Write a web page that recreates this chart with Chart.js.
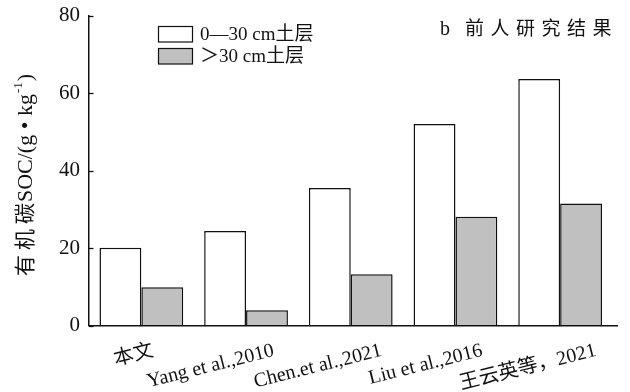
<!DOCTYPE html>
<html>
<head>
<meta charset="utf-8">
<script src="https://cdn.jsdelivr.net/npm/chart.js@4/dist/chart.umd.min.js"></script>
<style>
  html, body { margin: 0; padding: 0; background: #fff; }
  #wrap { width: 630px; height: 392px; position: relative; }
</style>
</head>
<body>
<div id="wrap"><canvas id="c" width="630" height="392"></canvas></div>
<script>
// Soil organic carbon (g/kg) compared with earlier studies
const categories = ['本文', 'Yang et al.,2010', 'Chen.et al.,2021', 'Liu et al.,2016', '王云英等，2021'];
const topsoil = [20.1, 24.4, 35.5, 52.0, 63.6];   // 0—30 cm
const subsoil = [9.9, 4.0, 13.3, 28.1, 31.5];     // >30 cm
const seriesNames = ['0—30 cm土层', '＞30 cm土层'];
const yTicks = [0, 20, 40, 60, 80];

const SERIF = '"Liberation Serif", "Noto Sans CJK SC", serif';
const CJK = '"Noto Sans CJK SC", sans-serif';
const INK = '#111';

// horizontal nudge of each slanted category label (right end, px from group centre)
const labelShift = [13, 29, 32, 28, 37];

const decor = {
  id: 'decor',
  afterDraw(chart) {
    const ctx = chart.ctx;
    const area = chart.chartArea;
    const xs = chart.scales.x, ys = chart.scales.y;
    ctx.save();

    // baseline, running a little past the last group
    ctx.strokeStyle = INK;
    ctx.lineWidth = 1.5;
    ctx.beginPath();
    ctx.moveTo(area.left - 0.75, area.bottom);
    ctx.lineTo(area.right + 5.5, area.bottom);
    ctx.stroke();

    // inward tick marks on the value axis
    ctx.lineWidth = 1.3;
    yTicks.forEach(v => {
      const y = Math.round(ys.getPixelForValue(v)) + 0.5;
      ctx.beginPath();
      ctx.moveTo(area.left, y);
      ctx.lineTo(area.left + 4.5, y);
      ctx.stroke();
    });

    // slanted category labels
    ctx.fillStyle = INK;
    ctx.font = '20px ' + SERIF;
    ctx.textAlign = 'right';
    ctx.textBaseline = 'alphabetic';
    categories.forEach((lab, i) => {
      const x = xs.getPixelForValue(i) + labelShift[i];
      ctx.save();
      ctx.translate(x, area.bottom + 30);
      ctx.rotate(-14 * Math.PI / 180);
      ctx.fillText(lab, 0, 0);
      ctx.restore();
    });

    // value axis title: 有机碳SOC/(g • kg-1)
    ctx.save();
    ctx.translate(32, 175);
    ctx.rotate(-Math.PI / 2);
    const parts = [
      { t: '有', f: '21px ' + CJK, dy: 0, gap: 5 },
      { t: '机', f: '21px ' + CJK, dy: 0, gap: 5 },
      { t: '碳', f: '21px ' + CJK, dy: 0, gap: 1 },
      { t: 'SOC/(g • kg', f: '22px ' + SERIF, dy: 0, gap: 1 },
      { t: '-1', f: '13px ' + SERIF, dy: -10, gap: 1 },
      { t: ')', f: '22px ' + SERIF, dy: 0, gap: 0 }
    ];
    let total = 0;
    parts.forEach(p => { ctx.font = p.f; p.w = ctx.measureText(p.t).width; total += p.w + p.gap; });
    let cx = -total / 2;
    ctx.textAlign = 'left';
    parts.forEach(p => {
      ctx.font = p.f;
      ctx.fillText(p.t, cx, p.dy);
      cx += p.w + p.gap;
    });
    ctx.restore();

    // legend
    const ds = chart.data.datasets;
    ctx.font = '19px ' + SERIF;
    ctx.textAlign = 'left';
    ctx.textBaseline = 'middle';
    ds.forEach((d, i) => {
      const top = 26.5 + i * 22;
      ctx.fillStyle = d.backgroundColor;
      ctx.fillRect(158.5, top, 34, 15.5);
      ctx.strokeStyle = INK;
      ctx.lineWidth = 1.2;
      ctx.strokeRect(158.5, top, 34, 15.5);
      ctx.fillStyle = INK;
      ctx.fillText(d.label, 200, top + 8.5);
    });

    // panel title
    ctx.textBaseline = 'alphabetic';
    ctx.font = '20px ' + SERIF;
    ctx.fillText('b', 440, 35);
    ctx.font = '19px ' + CJK;
    const title = '前人研究结果';
    for (let k = 0; k < title.length; k++) {
      ctx.fillText(title[k], 465 + k * 25.5, 35);
    }
    ctx.restore();
  }
};

new Chart(document.getElementById('c'), {
  type: 'bar',
  data: {
    labels: categories,
    datasets: [
      { label: seriesNames[0], data: topsoil, backgroundColor: '#ffffff', borderColor: INK, borderWidth: 1.5 },
      { label: seriesNames[1], data: subsoil, backgroundColor: '#c0c0c0', borderColor: INK, borderWidth: 1.5 }
    ]
  },
  options: {
    responsive: false,
    animation: false,
    devicePixelRatio: 1,
    layout: { padding: { top: 15.5, right: 17.5, left: 0, bottom: 0 } },
    plugins: { legend: { display: false }, tooltip: { enabled: false }, title: { display: false } },
    datasets: { bar: { categoryPercentage: 0.8, barPercentage: 1.0 } },
    scales: {
      x: {
        type: 'category',
        offset: true,
        grid: { display: false, drawTicks: false },
        border: { display: false },
        ticks: { display: false },
        afterFit(scale) { scale.height = 66.3; }
      },
      y: {
        min: 0,
        max: 80,
        afterBuildTicks(scale) { scale.ticks = yTicks.map(v => ({ value: v })); },
        grid: { display: false, drawTicks: false },
        border: { display: true, color: INK, width: 1.5 },
        ticks: { color: INK, padding: 9, font: { family: SERIF, size: 21, lineHeight: 0.62 } },
        afterFit(scale) { scale.width = 89; }
      }
    }
  },
  plugins: [decor]
});
</script>
</body>
</html>
